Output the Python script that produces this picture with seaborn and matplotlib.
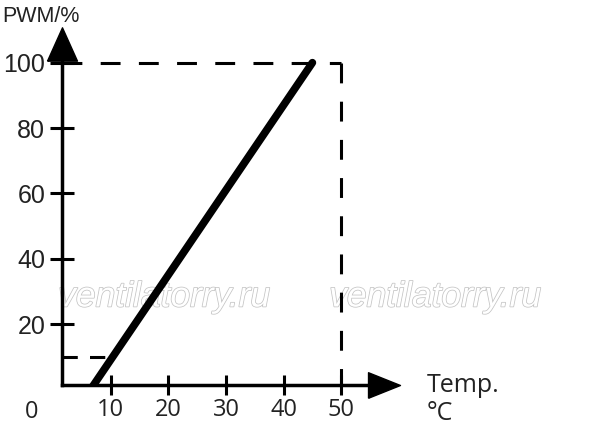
import matplotlib
matplotlib.use("Agg")
import matplotlib.pyplot as plt
import matplotlib.patheffects as pe
import seaborn as sns

# fan curve: PWM duty vs temperature
temp = [6.5, 45.0]
pwm = [0, 100]
min_temp, min_pwm = 10, 10
max_temp, max_pwm = 50, 100
x_ticks = [10, 20, 30, 40, 50]
y_ticks = [20, 40, 60, 80, 100]
watermark = "ventilatorry.ru"

sns.set_theme(style="white")
plt.rcParams["font.family"] = ["Liberation Sans", "DejaVu Sans"]

fig = plt.figure(figsize=(6, 4.37), dpi=100)
ax = fig.add_axes([0.1028, 0.119, 0.537, 0.781])
ax.set_xlim(1.5, 57.4)
ax.set_ylim(1.4, 105.8)

# watermark behind everything
for xf in [164 / 600, 435 / 600]:
    ax.text(xf, 1 - 297 / 437, watermark, transform=fig.transFigure,
            ha="center", va="center", fontsize=25.5, style="italic",
            color="white", zorder=0.5, clip_on=False,
            path_effects=[pe.Stroke(linewidth=1.1, foreground="#c4c4c4"), pe.Normal()])

# guide lines
dash = dict(color="black", lw=2.2, dashes=(6.5, 6), zorder=2)
ax.plot([1.5, max_temp], [max_pwm, max_pwm], **dash)
ax.plot([max_temp, max_temp], [max_pwm, 1.4], **dash)
ax.plot([1.5, min_temp], [min_pwm, min_pwm], color="black", lw=2.2, dashes=(5, 4), zorder=2)

sns.lineplot(x=temp, y=pwm, color="black", lw=5.5, ax=ax, zorder=3)

for side in ["top", "right"]:
    ax.spines[side].set_visible(False)
for side in ["left", "bottom"]:
    ax.spines[side].set_linewidth(2.5)
    ax.spines[side].set_color("black")
    ax.spines[side].set_capstyle("projecting")

ax.set_xticks(x_ticks)
ax.set_yticks(y_ticks)
ax.tick_params(axis="x", bottom=True, direction="inout", length=14.5, width=2.2,
               color="black", pad=2, labelsize=17, labelcolor="#222222")
ax.tick_params(axis="y", left=True, direction="inout", length=17.5, width=2.2,
               color="black", pad=3, labelsize=18, labelcolor="#222222")
for lab in ax.get_xticklabels():
    lab.set_fontfamily(["Open Sans", "DejaVu Sans"])

# arrow heads
ax.plot(1, 1.4, marker=[(-1, -0.8), (1, 0), (-1, 0.8), (-1, -0.8)], ms=23,
        color="black", transform=ax.get_yaxis_transform(), clip_on=False)
ax.plot(1.5, 1, marker=[(-0.9, -1), (0, 1), (0.9, -1), (-0.9, -1)], ms=24,
        color="black", transform=ax.get_xaxis_transform(), clip_on=False)

ax.text(32 / 600, 1 - 412 / 437, "0", transform=fig.transFigure, ha="center",
        va="center", fontsize=17, color="#222222", family=["Open Sans", "DejaVu Sans"])
fig.text(2 / 600, 1 - 16 / 437, "PWM/%", ha="left", va="center", fontsize=15.5,
         color="#222222")
fig.text(427 / 600, 1 - 386 / 437, "Temp.", ha="left", va="center", fontsize=18,
         color="#222222", family=["Open Sans", "DejaVu Sans"])
fig.text(427 / 600, 1 - 413 / 437, "°C", ha="left", va="center", fontsize=18,
         color="#222222", family=["Open Sans", "DejaVu Sans"])

fig.savefig("out.png", dpi=100)
